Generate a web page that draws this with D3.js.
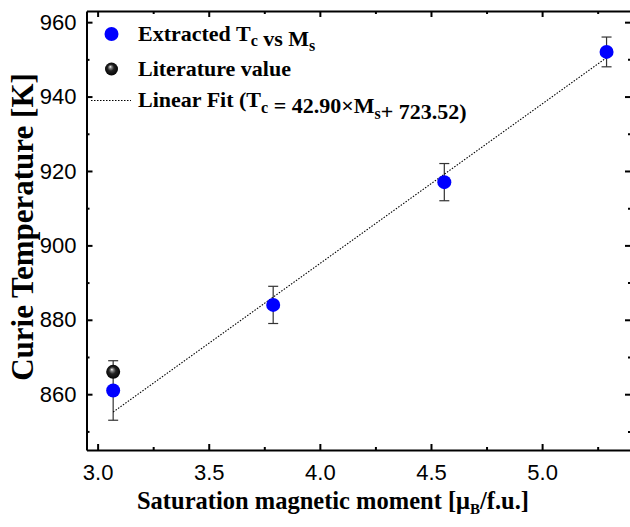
<!DOCTYPE html>
<html>
<head>
<meta charset="utf-8">
<script src="https://cdn.jsdelivr.net/npm/d3@7"></script>
<style>
  html, body { margin: 0; padding: 0; background: #fff; }
  svg { display: block; }
</style>
</head>
<body>
<svg id="chart" width="630" height="527"></svg>
<script>
// Saturation magnetic moment (μB/f.u.) and Curie temperature (K)
const momentValues = [3.07, 3.79, 4.56, 5.29];
const curieValues = [861, 884, 917, 952];
const curieErrors = [8, 5, 5, 4];

// Literature reference point
const literatureMoment = [3.07];
const literatureCurie = [866];

// Linear fit parameters: Tc = slope × Ms + intercept
const fitSlope = 42.90;
const fitIntercept = 723.52;

const xTickValues = [3.0, 3.5, 4.0, 4.5, 5.0];
const xMinorTicks = [3.25, 3.75, 4.25, 4.75, 5.25];
const yTickValues = [860, 880, 900, 920, 940, 960];
const yMinorTicks = [850, 870, 890, 910, 930, 950];

const svg = d3.select("#chart");
const plotLeft = 86.5, plotRight = 631, plotTop = 11, plotBottom = 450;

const x = d3.scaleLinear().domain([2.95, 5.40]).range([plotLeft, plotRight]);
const y = d3.scaleLinear().domain([845, 963]).range([plotBottom, plotTop]);

const serif = "'Liberation Serif', 'Times New Roman', serif";
const sans = "'Liberation Sans', Arial, sans-serif";

// Sphere shading for the literature marker
const defs = svg.append("defs");
const grad = defs.append("radialGradient").attr("id", "sphere")
  .attr("cx", "50%").attr("cy", "50%").attr("fx", "40%").attr("fy", "32%").attr("r", "55%");
grad.append("stop").attr("offset", "0%").attr("stop-color", "#ffffff");
grad.append("stop").attr("offset", "18%").attr("stop-color", "#888");
grad.append("stop").attr("offset", "45%").attr("stop-color", "#222");
grad.append("stop").attr("offset", "100%").attr("stop-color", "#000");

// Axes with inward ticks on all four sides
function styleAxis(g) {
  g.select(".domain").attr("stroke", "#000").attr("stroke-width", 2);
  g.selectAll(".tick line").attr("stroke", "#000").attr("stroke-width", 2);
  g.selectAll(".tick text").attr("font-family", sans).attr("font-size", 22).attr("fill", "#000");
}
function minor(g) {
  g.select(".domain").remove();
  g.selectAll("line").attr("stroke", "#000").attr("stroke-width", 2);
}

const bottomAxis = svg.append("g").attr("transform", `translate(0,${plotBottom})`)
  .call(d3.axisBottom(x).tickValues(xTickValues).tickFormat(d3.format(".1f"))
    .tickSizeInner(-6).tickSizeOuter(0).tickPadding(14));
styleAxis(bottomAxis);
svg.append("g").attr("transform", `translate(0,${plotBottom})`)
  .call(d3.axisBottom(x).tickValues(xMinorTicks).tickFormat("").tickSizeInner(-3).tickSizeOuter(0))
  .call(minor);

const topAxis = svg.append("g").attr("transform", `translate(0,${plotTop})`)
  .call(d3.axisTop(x).tickValues(xTickValues).tickFormat("").tickSizeInner(-6).tickSizeOuter(0));
styleAxis(topAxis);
svg.append("g").attr("transform", `translate(0,${plotTop})`)
  .call(d3.axisTop(x).tickValues(xMinorTicks).tickFormat("").tickSizeInner(-3).tickSizeOuter(0))
  .call(minor);

const leftAxis = svg.append("g").attr("transform", `translate(${plotLeft},0)`)
  .call(d3.axisLeft(y).tickValues(yTickValues).tickFormat(d3.format("d"))
    .tickSizeInner(-6).tickSizeOuter(0).tickPadding(10));
styleAxis(leftAxis);
svg.append("g").attr("transform", `translate(${plotLeft},0)`)
  .call(d3.axisLeft(y).tickValues(yMinorTicks).tickFormat("").tickSizeInner(-3).tickSizeOuter(0))
  .call(minor);

const rightAxis = svg.append("g").attr("transform", `translate(${plotRight},0)`)
  .call(d3.axisRight(y).tickValues(yTickValues).tickFormat("").tickSizeInner(-6).tickSizeOuter(0));
styleAxis(rightAxis);
svg.append("g").attr("transform", `translate(${plotRight},0)`)
  .call(d3.axisRight(y).tickValues(yMinorTicks).tickFormat("").tickSizeInner(-3).tickSizeOuter(0))
  .call(minor);

// Error bars
const data = momentValues.map((m, i) => ({ m, t: curieValues[i], e: curieErrors[i] }));
const eb = svg.append("g").attr("stroke", "#333").attr("stroke-width", 1.2);
data.forEach(d => {
  eb.append("line").attr("x1", x(d.m)).attr("x2", x(d.m)).attr("y1", y(d.t - d.e)).attr("y2", y(d.t + d.e));
  eb.append("line").attr("x1", x(d.m) - 5).attr("x2", x(d.m) + 5).attr("y1", y(d.t - d.e)).attr("y2", y(d.t - d.e));
  eb.append("line").attr("x1", x(d.m) - 5).attr("x2", x(d.m) + 5).attr("y1", y(d.t + d.e)).attr("y2", y(d.t + d.e));
});

// Fitted line across the measured range
const fitX = d3.extent(momentValues);
svg.append("line")
  .attr("x1", x(fitX[0])).attr("y1", y(fitSlope * fitX[0] + fitIntercept))
  .attr("x2", x(fitX[1])).attr("y2", y(fitSlope * fitX[1] + fitIntercept))
  .attr("stroke", "#000").attr("stroke-width", 1.1).attr("stroke-dasharray", "1.5,1.5");

// Markers
svg.append("g").selectAll("circle").data(data).join("circle")
  .attr("cx", d => x(d.m)).attr("cy", d => y(d.t)).attr("r", 7).attr("fill", "#0000ff");
svg.append("g").selectAll("circle").data(literatureMoment).join("circle")
  .attr("cx", d => x(d)).attr("cy", (d, i) => y(literatureCurie[i])).attr("r", 7).attr("fill", "url(#sphere)");

// Legend
const lg = svg.append("g").attr("font-family", serif).attr("font-weight", "bold").attr("font-size", 22).attr("fill", "#000");
lg.append("circle").attr("cx", 111.5).attr("cy", 34).attr("r", 7).attr("fill", "#0000ff");
lg.append("circle").attr("cx", 111.5).attr("cy", 69).attr("r", 6.5).attr("fill", "url(#sphere)");
lg.append("line").attr("x1", 91).attr("x2", 131).attr("y1", 100.5).attr("y2", 100.5)
  .attr("stroke", "#000").attr("stroke-width", 1).attr("stroke-dasharray", "1.5,1.5");

function withSubs(textSel, parts, drop) {
  parts.forEach(p => {
    if (p.sub) {
      textSel.append("tspan").attr("font-size", 16).attr("dy", drop).text(p.sub);
      textSel.append("tspan").attr("dy", -drop).text("");
    } else {
      textSel.append("tspan").text(p.t);
    }
  });
}
withSubs(lg.append("text").attr("x", 138).attr("y", 41), [{ t: "Extracted T" }, { sub: "c" }, { t: " vs M" }, { sub: "s" }], 5);
lg.append("text").attr("x", 138).attr("y", 75.5).text("Literature value");
withSubs(lg.append("text").attr("x", 138).attr("y", 106.5),
  [{ t: "Linear Fit (T" }, { sub: "c" }, { t: " = " + fitSlope.toFixed(2) + "×M" }, { sub: "s" }, { t: "+ " + fitIntercept.toFixed(2) + ")" }], 6);

// Axis titles
const xt = svg.append("text").attr("x", 333).attr("y", 509)
  .attr("text-anchor", "middle").attr("font-family", serif).attr("font-weight", "bold").attr("font-size", 24.5);
xt.append("tspan").text("Saturation magnetic moment [μ");
xt.append("tspan").attr("font-size", 15).attr("dy", 5).text("B");
xt.append("tspan").attr("dy", -5).text("/f.u.]");

svg.append("text").attr("transform", `translate(33,227) rotate(-90)`)
  .attr("text-anchor", "middle").attr("font-family", serif).attr("font-weight", "bold").attr("font-size", 31)
  .text("Curie Temperature [K]");
</script>
</body>
</html>
